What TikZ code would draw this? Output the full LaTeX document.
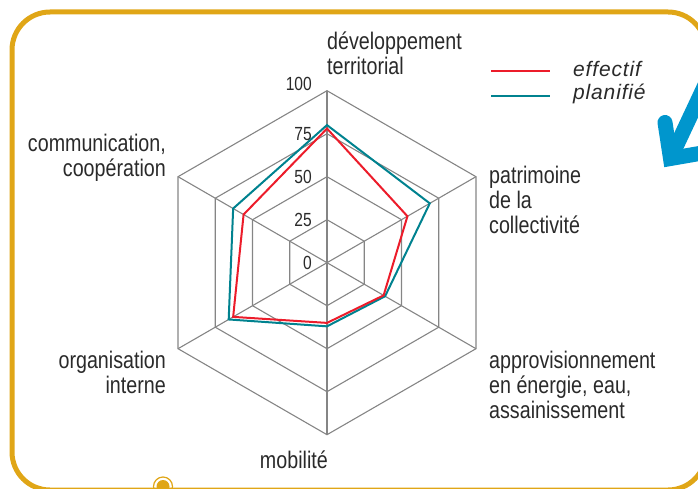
\documentclass[tikz,border=0pt]{standalone}
\usepackage{fontspec}
\setmainfont[FakeStretch=0.82]{Liberation Sans}
\newfontfamily\legendfont[LetterSpace=4]{Liberation Sans}
\usetikzlibrary{positioning, calc}

\definecolor{framegold}{HTML}{E0A617}
\definecolor{effred}{HTML}{EC1C2A}
\definecolor{planteal}{HTML}{00828F}
\definecolor{gridgray}{HTML}{858585}
\definecolor{arrowblue}{HTML}{0096CD}
\definecolor{textgray}{HTML}{2A2A2A}

\begin{document}
\begin{tikzpicture}[x=1pt, y=1pt,
    axis/.style={gridgray, line width=1.1pt},
    effectif/.style={effred, line width=2pt},
    planifie/.style={planteal, line width=2pt},
    axislabel/.style={inner sep=0pt, text=textgray, font=\fontsize{24}{25}\selectfont},
    ringlabel/.style={inner sep=0pt, text=textgray, font=\fontsize{19}{20}\selectfont},
    legendtext/.style={inner sep=0pt, text=textgray, font=\legendfont\itshape\fontsize{21}{22}\selectfont}]
    \useasboundingbox (0,0) rectangle (698,488);

    \draw[framegold, line width=5pt, rounded corners=38pt] (12,-2) rectangle (706,476);

    \coordinate (c) at (327,225.3);
    \foreach \r in {1,...,4}
        \draw[axis] ($(c)+(90:43*\r)$) \foreach \a in {30,-30,-90,-150,150} { -- ($(c)+(\a:43*\r)$) } -- cycle;
    \foreach \i in {1,...,6} {
        \coordinate (v\i) at ($(c)+({150-60*\i}:172)$);
        \draw[axis] (c) -- (v\i);
    }

    \foreach \v [count=\i] in {80,69,39,37,66,63}
        \coordinate (p\i) at ($(c)+({150-60*\i}:1.72*\v)$);
    \foreach \v [count=\i] in {78,54,38,35,63,56}
        \coordinate (e\i) at ($(c)+({150-60*\i}:1.72*\v)$);
    \draw[planifie] (p1) -- (p2) -- (p3) -- (p4) -- (p5) -- (p6) -- cycle;
    \draw[effectif] (e1) -- (e2) -- (e3) -- (e4) -- (e5) -- (e6) -- cycle;

    \foreach \v in {0,25,50,75}
        \node[ringlabel, anchor=east] (t\v) at ($(c)+(-15,1.72*\v)$) {\v};
    \node[ringlabel, anchor=base east] (t100) at ($(c)+(-15,172)$) {100};

    \node[axislabel, anchor=base west, align=left] (dev) at (327,413) {développement\\territorial};
    \node[axislabel, anchor=base west, align=left] (pat) at (489,254.7) {patrimoine\\de la\\collectivité};
    \node[axislabel, anchor=base west, align=left] (app) at (489,69.7) {approvisionnement\\en énergie, eau,\\assainissement};
    \node[axislabel, anchor=base east] (mob) at (328,19.7) {mobilité};
    \node[axislabel, anchor=base east, align=right] (org) at (166,94.7) {organisation\\interne};
    \node[axislabel, anchor=base east, align=right] (com) at (166,311.3) {communication,\\coopération};

    \node[legendtext, anchor=base west] (leff) at (573,411.3) {effectif};
    \node[legendtext, anchor=base west] (lplan) at (573,388) {planifié};
    \coordinate (le1) at (491,417);
    \coordinate (le2) at (550,417);
    \coordinate (lp1) at (491,392.3);
    \coordinate (lp2) at (550,392.3);
    \draw[effectif] (le1) -- (le2);
    \draw[planifie] (lp1) -- (lp2);

    \draw[arrowblue, line width=15pt, line cap=round, line join=miter] (665,365.5) -- (670.5,329.5) -- (708,336);
    \draw[arrowblue, line width=15pt] (670.5,329.5) -- (705,403);

    \draw[framegold, line width=1.2pt] (163,1.5) circle (9.5);
    \fill[framegold] (163,1.5) circle (6.5);
\end{tikzpicture}
\end{document}
